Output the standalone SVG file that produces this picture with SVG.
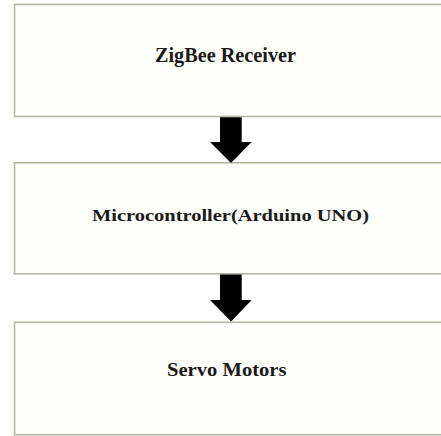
<svg xmlns="http://www.w3.org/2000/svg" width="441" height="436" viewBox="0 0 441 436">
<style>
.box{fill:#fefefa;stroke:#b5b6a4;stroke-width:1.6}
.lbl{font-family:"Liberation Serif","Times New Roman",serif;font-weight:bold;fill:#1a1a1a;text-anchor:start}
.arr{fill:#000}
</style>
<rect width="441" height="436" fill="#ffffff"/>
<g id="node-zigbee">
<rect class="box" x="14.5" y="4.5" width="440" height="112"/>
<text class="lbl" x="155" y="61.5" font-size="20" textLength="141" lengthAdjust="spacingAndGlyphs">ZigBee Receiver</text>
</g>
<g id="node-micro">
<rect class="box" x="14.5" y="162.8" width="440" height="111"/>
<text class="lbl" x="92" y="221" font-size="17" textLength="277" lengthAdjust="spacingAndGlyphs">Microcontroller(Arduino UNO)</text>
</g>
<g id="node-servo">
<rect class="box" x="14.5" y="322.3" width="440" height="112.5"/>
<text class="lbl" x="167" y="376" font-size="19" textLength="119.5" lengthAdjust="spacingAndGlyphs">Servo Motors</text>
</g>
<g id="connectors">
<path class="arr" d="M220,117.3 H241.7 V142 H251.7 L231,163 L210,142 H220 Z"/>
<path class="arr" d="M220,274.6 H241.7 V300 H251.7 L231,321.5 L210,300 H220 Z"/>
</g>
</svg>
